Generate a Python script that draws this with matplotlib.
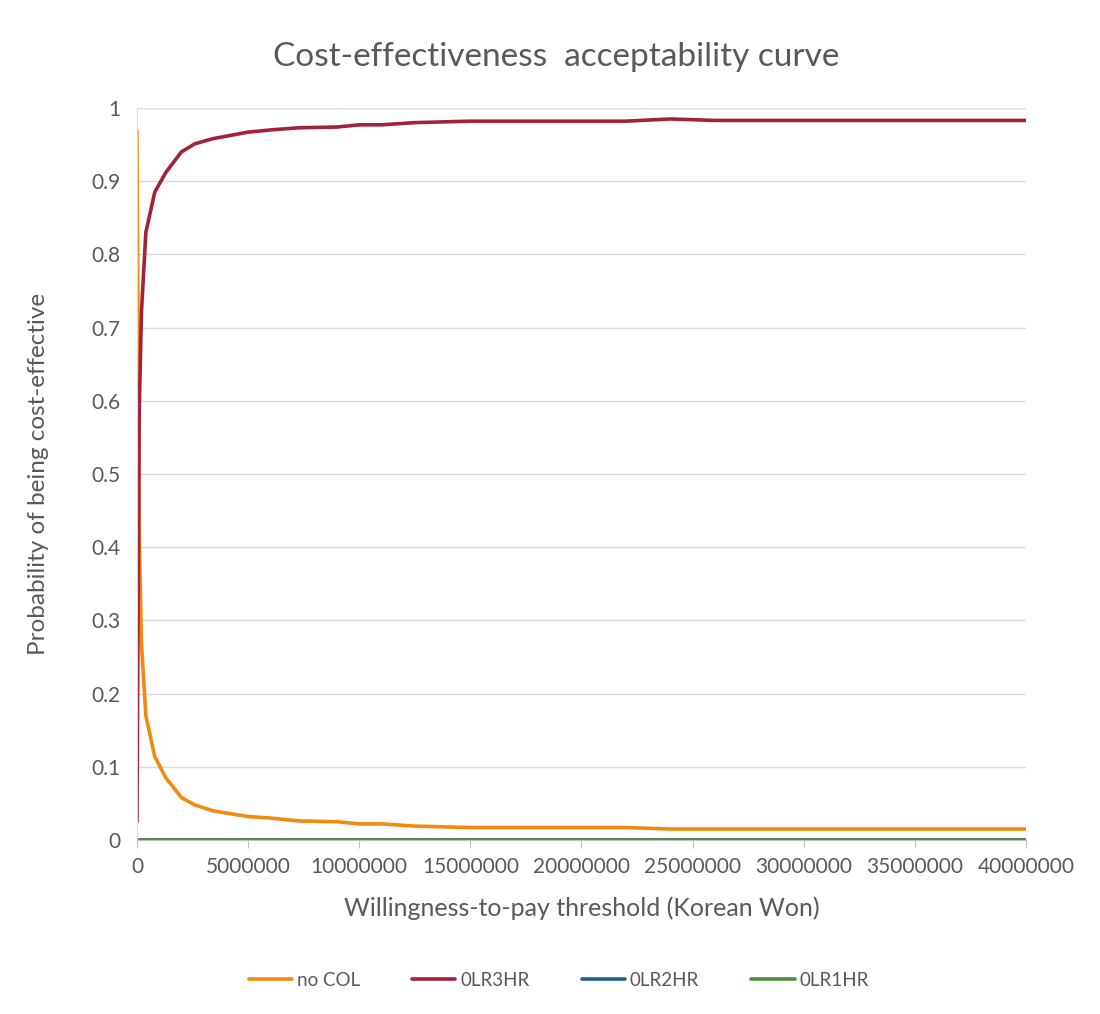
import matplotlib
matplotlib.use("Agg")
import matplotlib.pyplot as plt

# --- data (WTP in Korean Won) ---
wtp = [0, 100000, 200000, 400000, 800000, 1300000, 2000000, 2600000, 3400000,
       5000000, 6000000, 7300000, 9000000, 10000000, 11000000, 12500000,
       15000000, 18000000, 22000000, 24000000, 26000000, 30000000, 35000000,
       40000000]
no_col = [0.969, 0.42, 0.27, 0.17, 0.114, 0.085, 0.058, 0.048, 0.040,
          0.032, 0.030, 0.026, 0.025, 0.022, 0.022, 0.019,
          0.017, 0.017, 0.017, 0.015, 0.015, 0.015, 0.015, 0.015]
olr3hr = [0.025, 0.58, 0.72, 0.83, 0.885, 0.912, 0.940, 0.951, 0.958,
          0.967, 0.970, 0.973, 0.974, 0.977, 0.977, 0.980,
          0.982, 0.982, 0.982, 0.985, 0.983, 0.983, 0.983, 0.983]
olr2hr = [0.0] * len(wtp)
olr1hr = [0.0] * len(wtp)

series = [("no COL", no_col, "#f28a10"),
          ("0LR3HR", olr3hr, "#a4213a"),
          ("0LR2HR", olr2hr, "#1f5f8b"),
          ("0LR1HR", olr1hr, "#4f8f3a")]

plt.rcParams["font.family"] = ["Lato", "DejaVu Sans"]
txt = "#595959"

fig = plt.figure(figsize=(11, 10.14), dpi=100)
ax = fig.add_axes([0.1245, 0.1716, 0.8082, 0.7219])

for name, vals, col in series:
    ax.plot(wtp, vals, color=col, lw=2.6, label=name, solid_capstyle="round")

ax.set_xlim(0, 40000000)
ax.set_ylim(0, 1)
ax.set_xticks(range(0, 40000001, 5000000))
ax.set_xticklabels([str(v) for v in range(0, 40000001, 5000000)])
ax.set_yticks([i / 10 for i in range(11)])
ax.set_yticklabels(["0"] + [f"0.{i}" for i in range(1, 10)] + ["1"])
ax.grid(axis="y", color="#d9d9d9", lw=1)
ax.set_axisbelow(True)
for s in ["top", "right"]:
    ax.spines[s].set_visible(False)
ax.spines["left"].set_color("#d9d9d9")
ax.spines["bottom"].set_color("#bfbfbf")
ax.tick_params(axis="y", length=0, labelsize=15, labelcolor=txt, pad=12)
ax.tick_params(axis="x", length=6, color="#bfbfbf", labelsize=15, labelcolor=txt, pad=6)

ax.set_xlabel("Willingness-to-pay threshold (Korean Won)", fontsize=18, color=txt, labelpad=14)
ax.set_ylabel("Probability of being cost-effective", fontsize=17.5, color=txt, labelpad=30)
fig.text(0.5055, 0.944, "Cost-effectiveness  acceptability curve", ha="center",
         va="center", fontsize=24, color=txt)

fig.legend(loc="center", bbox_to_anchor=(0.508, 0.033), ncol=4, frameon=False,
           fontsize=13.5, labelcolor=txt, handlelength=2.3, handletextpad=0.25,
           columnspacing=2.8)

fig.savefig("out.png", dpi=100)
